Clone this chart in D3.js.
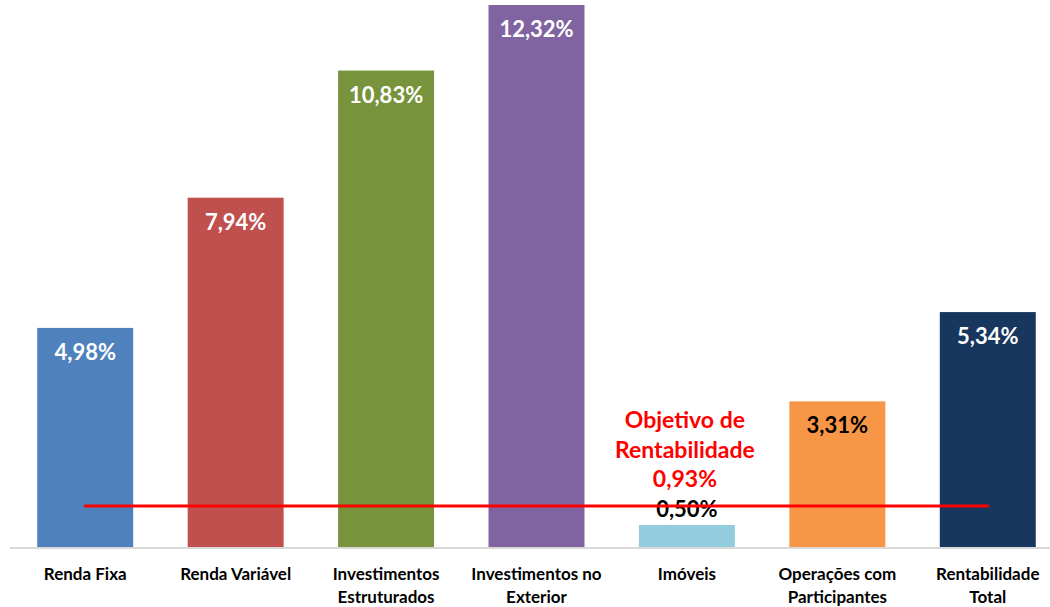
<!DOCTYPE html>
<html>
<head>
<meta charset="utf-8">
<script src="https://cdn.jsdelivr.net/npm/d3@7"></script>
<style>
  html, body { margin: 0; padding: 0; background: #fff; }
  svg { display: block; font-family: Lato, "Open Sans", sans-serif; }
</style>
</head>
<body>
<div id="chart"></div>
<script>
// data
var categories = [["Renda Fixa"], ["Renda Variável"], ["Investimentos", "Estruturados"],
  ["Investimentos no", "Exterior"], ["Imóveis"], ["Operações com", "Participantes"],
  ["Rentabilidade", "Total"]];
var values = [4.98, 7.94, 10.83, 12.32, 0.50, 3.31, 5.34];
var target = 0.93;
var targetLabel = ["Objetivo de", "Rentabilidade", "0,93%"];

// styles
var barColors = ["#4F81BD", "#C0504D", "#77933C", "#8064A2", "#93CDDD", "#F79646", "#17375E"];
var labelColors = ["#fff", "#fff", "#fff", "#fff", "#000", "#000", "#fff"];

var W = 1050, H = 607;
var svg = d3.select("#chart").append("svg").attr("width", W).attr("height", H);

var keys = categories.map(function(d) { return d.join(" "); });

var x = d3.scaleBand().domain(keys).range([10, 1063])
  .paddingInner(0.362).paddingOuter(0.181);
var y = d3.scaleLinear().domain([0, 12.32]).range([547, 5]);

function fmt(v) { return v.toFixed(2).replace(".", ",") + "%"; }

// bars
svg.selectAll("rect.bar").data(values).enter().append("rect")
  .attr("class", "bar")
  .attr("x", function(d, i) { return x(keys[i]); })
  .attr("y", function(d) { return y(d); })
  .attr("width", x.bandwidth())
  .attr("height", function(d) { return y(0) - y(d); })
  .attr("fill", function(d, i) { return barColors[i]; });

// baseline
svg.append("line")
  .attr("x1", 10).attr("x2", W)
  .attr("y1", y(0) + 1).attr("y2", y(0) + 1)
  .attr("stroke", "#d9d9d9").attr("stroke-width", 2);

// value labels
svg.selectAll("text.val").data(values).enter().append("text")
  .attr("class", "val")
  .attr("x", function(d, i) { return x(keys[i]) + x.bandwidth() / 2; })
  .attr("y", function(d) { return d < 1 ? y(d) - 8 : y(d) + 32; })
  .attr("text-anchor", "middle")
  .attr("font-size", 22).attr("font-weight", "bold")
  .attr("fill", function(d, i) { return labelColors[i]; })
  .text(fmt);

// target line
svg.append("line")
  .attr("x1", x(keys[0]) + x.bandwidth() / 2)
  .attr("x2", x(keys[keys.length - 1]) + x.bandwidth() / 2)
  .attr("y1", y(target)).attr("y2", y(target))
  .attr("stroke", "#FF0000").attr("stroke-width", 3)
  .attr("stroke-linecap", "round");

// target annotation
var ann = svg.append("text")
  .attr("text-anchor", "middle")
  .attr("font-size", 23).attr("font-weight", "bold")
  .attr("fill", "#FF0000");
ann.selectAll("tspan").data(targetLabel).enter().append("tspan")
  .attr("x", x(keys[4]) + x.bandwidth() / 2 - 2)
  .attr("y", function(d, i) { return y(target) - 78 + i * 29.5; })
  .text(function(d) { return d; });

// category labels
var cat = svg.selectAll("text.cat").data(categories).enter().append("text")
  .attr("class", "cat")
  .attr("text-anchor", "middle")
  .attr("font-size", 17).attr("font-weight", "bold")
  .attr("fill", "#000");
cat.selectAll("tspan").data(function(d, i) { return d.map(function(t) { return { t: t, i: i }; }); })
  .enter().append("tspan")
  .attr("x", function(d) { return x(keys[d.i]) + x.bandwidth() / 2; })
  .attr("y", function(d, j) { return 580 + j * 23; })
  .text(function(d) { return d.t; });
</script>
</body>
</html>
